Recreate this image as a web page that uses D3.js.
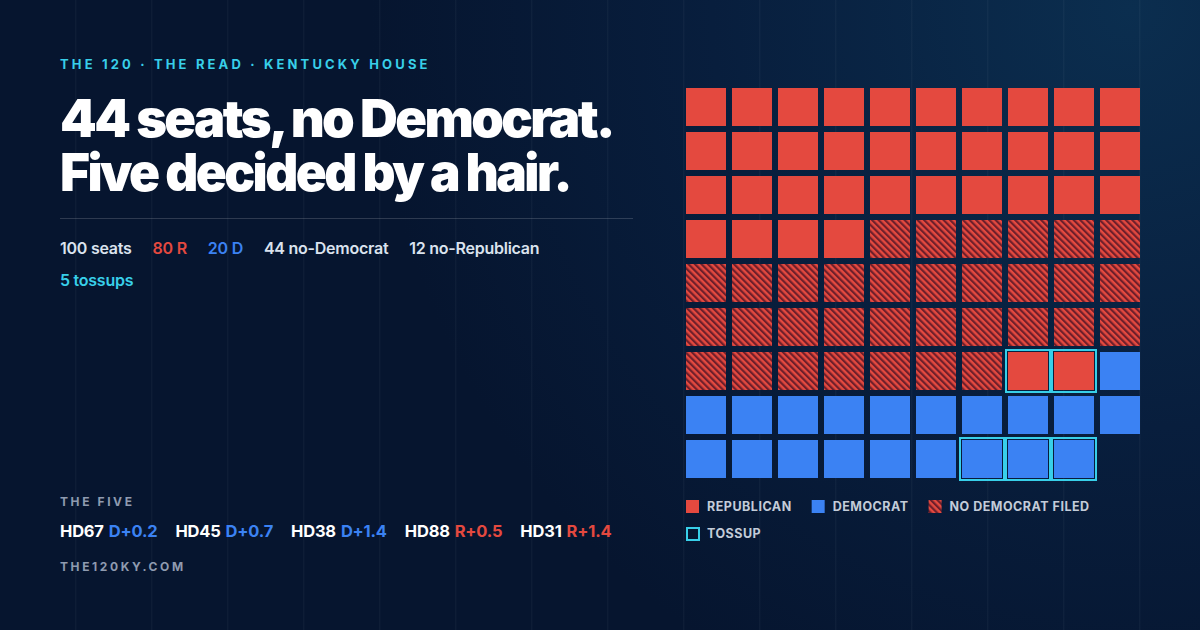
<!DOCTYPE html>
<html><head><meta charset="utf-8">
<script src="https://cdn.jsdelivr.net/npm/d3@7"></script>
<style>
html,body{margin:0;padding:0;background:#06152f;}
svg{display:block;}
text{font-family:Inter,"Noto Sans",sans-serif;}
</style></head>
<body>
<svg id="c" width="1200" height="630"></svg>
<script>
// ---------- data ----------
const kicker = "THE 120 · THE READ · KENTUCKY HOUSE";
const titleLines = ["44 seats, no Democrat.", "Five decided by a hair."];
const statLabels = ["100 seats", "80 R", "20 D", "44 no-Democrat", "12 no-Republican", "5 tossups"];
const statKinds  = ["plain", "R", "D", "plain", "plain", "toss"];
const seatKinds  = ["R", "Rnodem", "Rtoss", "D", "Dtoss"];
const seatCounts = [34, 33, 2, 17, 3];
const gridCols = 10, gridRows = 9;
const legendLabels = ["REPUBLICAN", "DEMOCRAT", "NO DEMOCRAT FILED", "TOSSUP"];
const legendKinds  = ["R", "D", "Rnodem", "toss"];
const fiveDistricts = ["HD67", "HD45", "HD38", "HD88", "HD31"];
const fiveParty     = ["D", "D", "D", "R", "R"];
const fiveMargins   = [0.2, 0.7, 1.4, 0.5, 1.4];
const fiveLabel = "THE FIVE";
const siteLabel = "THE120KY.COM";

// ---------- style ----------
const RED = "#e4493f", BLUE = "#3b82f3", CYAN = "#38cfe9", STRIPE = "#6e1f2b";
const TXT = "#dbe3ee", GRAY = "#8f9bb0";
const kindColor = {plain: TXT, R: RED, D: BLUE, toss: CYAN};

const svg = d3.select("#c");
const defs = svg.append("defs");

// background
const bg = defs.append("radialGradient").attr("id","bg")
  .attr("gradientUnits","userSpaceOnUse").attr("cx",1130).attr("cy",10).attr("r",760);
bg.append("stop").attr("offset","0").attr("stop-color","#0b2e4f");
bg.append("stop").attr("offset","0.55").attr("stop-color","#081e3d");
bg.append("stop").attr("offset","1").attr("stop-color","#06152f");
svg.append("rect").attr("width",1200).attr("height",630).attr("fill","url(#bg)");

svg.append("g").selectAll("rect").data(d3.range(75, 1200, 76)).join("rect")
  .attr("x", d => d).attr("y", 0).attr("width", 1.5).attr("height", 630)
  .attr("fill", "#ffffff").attr("opacity", 0.035);

// hatch pattern
const P = 4.6;
const pat = defs.append("pattern").attr("id","hatch").attr("patternUnits","userSpaceOnUse")
  .attr("width",P).attr("height",P).attr("patternTransform","rotate(-45)");
pat.append("rect").attr("width",P).attr("height",P).attr("fill",RED);
pat.append("rect").attr("width",2.2).attr("height",P).attr("fill",STRIPE);

// ---------- left text ----------
svg.append("text").attr("x",60).attr("y",69).text(kicker)
  .attr("fill",CYAN).attr("font-size",13).attr("font-weight",700)
  .attr("letter-spacing",3.15);

const titleWidths = [553, 510];
svg.append("g").selectAll("text").data(titleLines).join("text")
  .attr("x",60).attr("y",(d,i)=>137+i*54).text(d=>d)
  .attr("fill","#ffffff").attr("font-size",52).attr("font-weight",900)
  .attr("letter-spacing",-2.6)
  .attr("textLength",(d,i)=>titleWidths[i]).attr("lengthAdjust","spacingAndGlyphs");

svg.append("line").attr("x1",60).attr("x2",633).attr("y1",218.5).attr("y2",218.5)
  .attr("stroke","#ffffff").attr("stroke-opacity",0.16).attr("stroke-width",1);

// stats (wrap at 600)
const statG = svg.append("g");
let sx = 60, sy = 254;
statLabels.forEach((s,i)=>{
  const t = statG.append("text").attr("x",sx).attr("y",sy).text(s)
    .attr("fill",kindColor[statKinds[i]]).attr("font-size",16).attr("font-weight",600)
    .attr("letter-spacing",-0.25);
  const w = t.node().getComputedTextLength();
  if (sx + w > 600) { sx = 60; sy += 32; t.attr("x",sx).attr("y",sy); }
  sx += w + 21;
});

// the five
svg.append("text").attr("x",60).attr("y",506).text(fiveLabel)
  .attr("fill",GRAY).attr("font-size",12).attr("font-weight",700).attr("letter-spacing",2.6);
let fx = 60;
fiveDistricts.forEach((d,i)=>{
  const t = svg.append("text").attr("x",fx).attr("y",537)
    .attr("font-size",16.5).attr("font-weight",700).attr("letter-spacing",-0.2);
  t.append("tspan").attr("fill","#ffffff").text(d);
  t.append("tspan").attr("dx",5).attr("fill", fiveParty[i]==="D" ? BLUE : RED)
    .text(fiveParty[i] + "+" + fiveMargins[i].toFixed(1));
  fx += t.node().getComputedTextLength() + 5 + 18;
});
svg.append("text").attr("x",60).attr("y",571).text(siteLabel)
  .attr("fill",GRAY).attr("font-size",12).attr("font-weight",700).attr("letter-spacing",2.6);

// ---------- waffle ----------
const seats = [];
seatKinds.forEach((k,i)=>{ for(let j=0;j<seatCounts[i];j++) seats.push(k); });
const cells = seats.map((k,i)=>({kind:k, col:i%gridCols, row:Math.floor(i/gridCols)}));

const xB = d3.scaleBand().domain(d3.range(gridCols)).range([686,1140]).paddingInner(6/46);
const yB = d3.scaleBand().domain(d3.range(gridRows)).range([88,478]).paddingInner(6/44);
const fillOf = k => k==="Rnodem" ? "url(#hatch)" : (k[0]==="R" ? RED : BLUE);

const gW = svg.append("g");
gW.selectAll("rect.cell").data(cells).join("rect").attr("class","cell")
  .attr("x",d=>xB(d.col)).attr("y",d=>yB(d.row))
  .attr("width",xB.bandwidth()).attr("height",yB.bandwidth())
  .attr("fill",d=>fillOf(d.kind));
gW.selectAll("rect.toss").data(cells.filter(d=>d.kind.endsWith("toss"))).join("rect").attr("class","toss")
  .attr("x",d=>xB(d.col)-2).attr("y",d=>yB(d.row)-2)
  .attr("width",xB.bandwidth()+4).attr("height",yB.bandwidth()+4)
  .attr("fill","none").attr("stroke",CYAN).attr("stroke-width",2);

// ---------- legend ----------
const lg = svg.append("g");
let lx = 686, ly = 500;
legendLabels.forEach((lab,i)=>{
  const k = legendKinds[i];
  if (k === "toss") { lx = 686; ly += 27; }
  if (k === "toss") {
    lg.append("rect").attr("x",lx+1).attr("y",ly+1).attr("width",12).attr("height",12)
      .attr("fill","none").attr("stroke",CYAN).attr("stroke-width",2);
  } else {
    lg.append("rect").attr("x",lx).attr("y",ly).attr("width",13).attr("height",13)
      .attr("fill", k==="Rnodem" ? "url(#hatch)" : (k==="R"?RED:BLUE));
  }
  const t = lg.append("text").attr("x",lx+21).attr("y",ly+11).text(lab)
    .attr("fill","#c3ccd9").attr("font-size",12.5).attr("font-weight",700).attr("letter-spacing",0.5);
  lx += 21 + t.node().getComputedTextLength() + 20;
});
</script>
</body></html>
